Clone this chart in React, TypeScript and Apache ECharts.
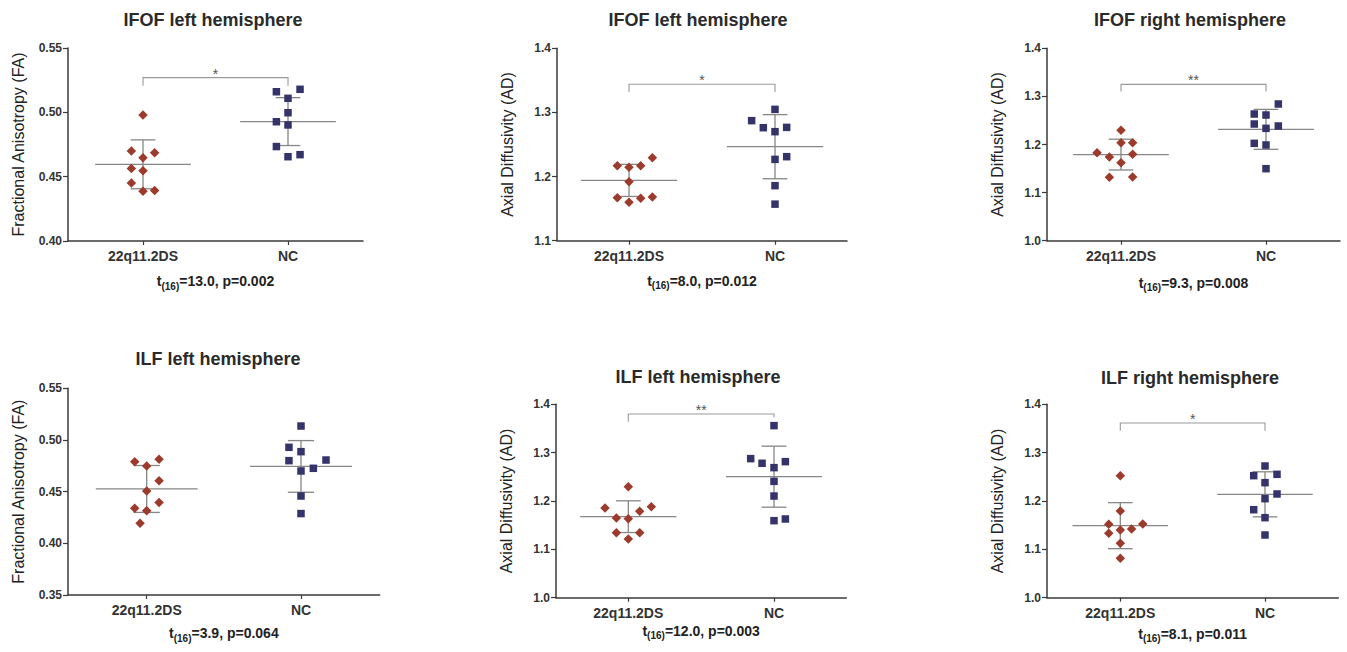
import React, { useEffect, useRef } from "react";
import * as echarts from "echarts";

const FONT = "'Liberation Sans', Arial, Helvetica, sans-serif";

// ---------- data ----------
const groups = ["22q11.2DS", "NC"];
const titles = [
  "IFOF left hemisphere",
  "IFOF left hemisphere",
  "IFOF right hemisphere",
  "ILF left hemisphere",
  "ILF left hemisphere",
  "ILF right hemisphere",
];
const yNames = [
  "Fractional Anisotropy (FA)",
  "Axial Diffusivity (AD)",
  "Axial Diffusivity (AD)",
  "Fractional Anisotropy (FA)",
  "Axial Diffusivity (AD)",
  "Axial Diffusivity (AD)",
];
const tValues = ["13.0", "8.0", "9.3", "3.9", "12.0", "8.1"];
const pValues = ["0.002", "0.012", "0.008", "0.064", "0.003", "0.011"];
const yMin = [0.4, 1.1, 1.0, 0.35, 1.0, 1.0];
const yMax = [0.55, 1.4, 1.4, 0.55, 1.4, 1.4];
const yStep = [0.05, 0.1, 0.1, 0.05, 0.1, 0.1];
const yDecimals = [2, 1, 1, 2, 1, 1];

// 22q11.2DS values (red diamonds)
const p1Red = [0.498, 0.47, 0.4686, 0.4647, 0.4564, 0.4546, 0.445, 0.4387, 0.4393];
const p2Red = [1.217, 1.2144, 1.217, 1.2294, 1.192, 1.167, 1.16, 1.166, 1.168];
const p3Red = [1.2295, 1.2038, 1.2038, 1.183, 1.174, 1.1795, 1.1622, 1.1317, 1.1324];
const p4Red = [0.479, 0.4813, 0.4748, 0.4606, 0.4506, 0.4394, 0.4339, 0.4316, 0.4194];
const p5Red = [1.2297, 1.1855, 1.1883, 1.1648, 1.1786, 1.1634, 1.1345, 1.1345, 1.1214];
const p6Red = [1.2524, 1.1793, 1.1517, 1.1524, 1.1331, 1.14, 1.142, 1.1124, 1.0814];
// NC values (blue squares)
const p1Blue = [0.516, 0.5179, 0.5109, 0.4997, 0.4927, 0.4902, 0.4734, 0.4655, 0.4671];
const p2Blue = [1.3048, 1.2872, 1.2762, 1.2767, 1.27, 1.231, 1.2268, 1.1858, 1.157];
const p3Blue = [1.2842, 1.2634, 1.2613, 1.2426, 1.2385, 1.2336, 1.2024, 1.199, 1.1497];
const p4Blue = [0.5135, 0.4929, 0.4887, 0.48, 0.4726, 0.4806, 0.47, 0.4458, 0.4288];
const p5Blue = [1.3559, 1.2876, 1.278, 1.2814, 1.269, 1.2407, 1.2103, 1.1593, 1.1628];
const p6Blue = [1.2724, 1.2524, 1.2552, 1.2379, 1.2145, 1.2048, 1.182, 1.1655, 1.1297];

// horizontal scatter offsets (in category units)
const p1RedJit = [0, -0.08, 0.08, 0, -0.08, 0, -0.08, 0, 0.08];
const p2RedJit = [-0.08, 0, 0.08, 0.16, 0, -0.08, 0, 0.08, 0.16];
const p3RedJit = [0, 0, 0.08, -0.165, -0.08, 0.08, 0, -0.08, 0.08];
const p4RedJit = [-0.078, 0.08, 0, 0.08, 0, 0.08, -0.078, 0, -0.043];
const p5RedJit = [0, -0.16, 0.158, -0.082, 0.078, 0, -0.082, 0.078, 0];
const p6RedJit = [0, 0, -0.08, 0.155, -0.08, 0, 0.078, 0, 0];
const p1BlueJit = [-0.08, 0.083, 0, 0, -0.08, 0, -0.08, 0, 0.083];
const p2BlueJit = [0, -0.16, -0.08, 0.08, 0, 0.08, 0, 0, 0];
const p3BlueJit = [0.085, -0.081, 0, -0.081, 0.085, 0, -0.081, 0, 0];
const p4BlueJit = [0, -0.078, 0, -0.078, 0.08, 0.162, 0, 0, 0];
const p5BlueJit = [0, -0.16, -0.082, 0.078, 0, 0, 0, 0, 0.078];
const p6BlueJit = [0, -0.078, 0.083, 0, 0.083, 0, -0.078, 0, 0];

const redValues = [p1Red, p2Red, p3Red, p4Red, p5Red, p6Red];
const blueValues = [p1Blue, p2Blue, p3Blue, p4Blue, p5Blue, p6Blue];
const redJitter = [p1RedJit, p2RedJit, p3RedJit, p4RedJit, p5RedJit, p6RedJit];
const blueJitter = [p1BlueJit, p2BlueJit, p3BlueJit, p4BlueJit, p5BlueJit, p6BlueJit];

// mean and SD
const meanRed = [0.4596, 1.194, 1.179, 0.4526, 1.1676, 1.149];
const sdRed = [0.019, 0.025, 0.032, 0.0227, 0.0328, 0.0476];
const meanBlue = [0.4928, 1.2466, 1.2315, 0.4744, 1.2503, 1.2138];
const sdBlue = [0.0186, 0.05, 0.0415, 0.025, 0.0631, 0.0466];

// significance brackets (null = none)
const bracketTop = [0.527, 1.344, 1.325, null, 1.38, 1.3614];
const bracketLeftEnd = [0.5206, 1.332, 1.31, null, 1.364, 1.3455];
const bracketRightEnd = [0.5206, 1.332, 1.31, null, 1.373, 1.3455];
const stars = ["*", "*", "**", "", "**", "*"];

// ---------- layout (pixels) ----------
const layout = [
  { yAxisX: 68, cat1: 143, cat2: 288, top: 48, bottom: 241, tx: 213, ty: 20, gap: 30 },
  { yAxisX: 557, cat1: 629, cat2: 775, top: 48.3, bottom: 240.7, tx: 698, ty: 20, gap: 30 },
  { yAxisX: 1047, cat1: 1121, cat2: 1266, top: 48.3, bottom: 240.7, tx: 1190, ty: 20, gap: 32 },
  { yAxisX: 68, cat1: 146.7, cat2: 301, top: 388.3, bottom: 595, tx: 218, ty: 359, gap: 28 },
  { yAxisX: 556, cat1: 628.3, cat2: 774, top: 404.3, bottom: 597.7, tx: 698, ty: 377, gap: 23 },
  { yAxisX: 1047, cat1: 1120.3, cat2: 1265, top: 404.3, bottom: 597.7, tx: 1190, ty: 378, gap: 26 },
];

const RED = "#9c3a2c";
const BLUE = "#34336a";
const AXIS = "#3a3a3a";
const ERR = "#868686";
const MEAN_HALF = 0.33;
const CAP_HALF = 0.085;

function buildOption() {
  const grid: any[] = [];
  const xAxis: any[] = [];
  const yAxis: any[] = [];
  const series: any[] = [];

  layout.forEach((L, i) => {
    const s = L.cat2 - L.cat1;
    const xEnd = L.cat2 + (L.cat1 - L.yAxisX);
    const xMin = 1 - (L.cat1 - L.yAxisX) / s;
    const xMax = 2 + (xEnd - L.cat2) / s;
    grid.push({
      left: L.yAxisX,
      top: L.top,
      width: xEnd - L.yAxisX,
      height: L.bottom - L.top,
      containLabel: false,
    });
    xAxis.push({
      gridIndex: i,
      type: "value",
      min: xMin,
      max: xMax,
      splitLine: { show: false },
      axisLine: { show: true, onZero: false, lineStyle: { color: AXIS, width: 1.5 } },
      axisTick: { show: true, customValues: [1, 2], length: 4, lineStyle: { color: AXIS, width: 1.2 } },
      axisLabel: {
        customValues: [1, 2],
        formatter: (v: number) => groups[Math.round(v) - 1],
        margin: 8,
        fontSize: 14,
        fontWeight: "bold",
        color: "#333",
        fontFamily: FONT,
      },
      name: `{i|t}{s|(16)}{i|=${tValues[i]}, p=${pValues[i]}}`,
      nameLocation: "middle",
      nameGap: L.gap,
      nameTextStyle: {
        rich: {
          i: { fontSize: 14, fontWeight: "bold", fontFamily: FONT, color: "#222", lineHeight: 20 },
          s: { fontSize: 10, fontWeight: "bold", fontFamily: FONT, color: "#222", lineHeight: 10, verticalAlign: "bottom" },
        },
      },
    });
    yAxis.push({
      gridIndex: i,
      type: "value",
      min: yMin[i],
      max: yMax[i],
      interval: yStep[i],
      splitLine: { show: false },
      axisLine: { show: true, onZero: false, lineStyle: { color: AXIS, width: 1.5 } },
      axisTick: { show: true, length: 5, lineStyle: { color: AXIS, width: 1.2 } },
      axisLabel: {
        formatter: (v: number) => v.toFixed(yDecimals[i]),
        margin: 6,
        fontSize: 12,
        fontWeight: "bold",
        color: "#333",
        fontFamily: FONT,
      },
      name: yNames[i],
      nameLocation: "middle",
      nameGap: 42,
      nameTextStyle: { fontSize: 16, color: "#222", fontFamily: FONT },
    });

    // mean & SD
    series.push({
      type: "custom",
      xAxisIndex: i,
      yAxisIndex: i,
      z: 1,
      silent: true,
      encode: { x: 0, y: 1 },
      data: [
        [1, meanRed[i], sdRed[i]],
        [2, meanBlue[i], sdBlue[i]],
      ],
      renderItem: (params: any, api: any) => {
        const x = api.value(0);
        const m = api.value(1);
        const sd = api.value(2);
        const a = api.coord([x - MEAN_HALF, m]);
        const b = api.coord([x + MEAN_HALF, m]);
        const t = api.coord([x, m + sd]);
        const d = api.coord([x, m - sd]);
        const tl = api.coord([x - CAP_HALF, m + sd]);
        const tr = api.coord([x + CAP_HALF, m + sd]);
        const dl = api.coord([x - CAP_HALF, m - sd]);
        const dr = api.coord([x + CAP_HALF, m - sd]);
        const style = { stroke: ERR, lineWidth: 1.3 };
        return {
          type: "group",
          children: [
            { type: "line", shape: { x1: a[0], y1: a[1], x2: b[0], y2: b[1] }, style },
            { type: "line", shape: { x1: t[0], y1: t[1], x2: d[0], y2: d[1] }, style },
            { type: "line", shape: { x1: tl[0], y1: tl[1], x2: tr[0], y2: tr[1] }, style },
            { type: "line", shape: { x1: dl[0], y1: dl[1], x2: dr[0], y2: dr[1] }, style },
          ],
        };
      },
    });

    // bracket
    if (bracketTop[i] !== null) {
      series.push({
        type: "custom",
        xAxisIndex: i,
        yAxisIndex: i,
        z: 1,
        silent: true,
        encode: { x: [0, 1], y: [2, 3, 4] },
        data: [[1, 2, bracketTop[i], bracketLeftEnd[i], bracketRightEnd[i]]],
        renderItem: (params: any, api: any) => {
          const x1 = api.value(0);
          const x2 = api.value(1);
          const top = api.value(2);
          const p0 = api.coord([x1, api.value(3)]);
          const p1 = api.coord([x1, top]);
          const p2 = api.coord([x2, top]);
          const p3 = api.coord([x2, api.value(4)]);
          const mid = api.coord([(x1 + x2) / 2, top]);
          return {
            type: "group",
            children: [
              {
                type: "polyline",
                shape: { points: [p0, p1, p2, p3] },
                style: { stroke: "#9a9a9a", lineWidth: 1.1, fill: "none" },
              },
              {
                type: "text",
                x: mid[0],
                y: mid[1] + 3,
                style: {
                  text: stars[i],
                  fill: "#555",
                  fontSize: 14,
                  fontFamily: FONT,
                  align: "center",
                  verticalAlign: "bottom",
                  textAlign: "center",
                  textVerticalAlign: "bottom",
                },
              },
            ],
          };
        },
      });
    }

    series.push({
      type: "scatter",
      xAxisIndex: i,
      yAxisIndex: i,
      z: 3,
      symbol: "diamond",
      symbolSize: 9.5,
      itemStyle: { color: RED, opacity: 1 },
      data: redValues[i].map((v, k) => [1 + redJitter[i][k], v]),
    });
    series.push({
      type: "scatter",
      xAxisIndex: i,
      yAxisIndex: i,
      z: 3,
      symbol: "rect",
      symbolSize: 7.5,
      itemStyle: { color: BLUE, opacity: 1 },
      data: blueValues[i].map((v, k) => [2 + blueJitter[i][k], v]),
    });
  });

  const graphic = layout.map((L, i) => ({
    type: "text",
    x: L.tx,
    y: L.ty,
    style: {
      text: titles[i],
      fontSize: 18,
      fontWeight: "bold",
      fontFamily: FONT,
      fill: "#2a2a2a",
      align: "center",
      verticalAlign: "middle",
      textAlign: "center",
      textVerticalAlign: "middle",
    },
  }));

  return {
    animation: false,
    backgroundColor: "#ffffff",
    grid,
    xAxis,
    yAxis,
    series,
    graphic,
  };
}

export default function App() {
  const ref = useRef<HTMLDivElement>(null);
  useEffect(() => {
    if (!ref.current) return;
    const chart = echarts.init(ref.current, undefined, { renderer: "svg" });
    chart.setOption(buildOption() as any);
    return () => chart.dispose();
  }, []);
  return (
    <div
      ref={ref}
      style={{ position: "fixed", left: 0, top: 0, width: 1347, height: 652, background: "#fff" }}
    />
  );
}
